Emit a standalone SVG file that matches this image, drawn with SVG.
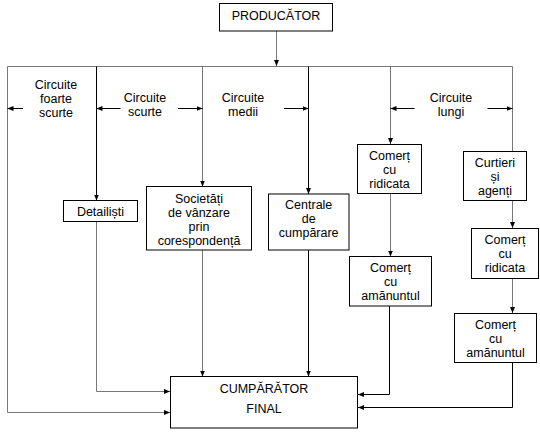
<svg xmlns="http://www.w3.org/2000/svg" width="540" height="432" viewBox="0 0 540 432">
<style>
.box{fill:#fff;stroke:#000;stroke-width:1}
.t{font-family:"Liberation Sans",Arial,sans-serif;font-size:12.5px;fill:#000;text-anchor:middle}
.c{fill:none;stroke:#000;stroke-width:1}
.g{fill:none;stroke:#777;stroke-width:1}
</style>
<defs>
<marker id="ah" markerWidth="6" markerHeight="6" refX="6" refY="3" orient="auto" markerUnits="userSpaceOnUse">
<path d="M0,0.5 L6,3 L0,5.5 z" fill="#000"/>
</marker>
</defs>
<rect width="540" height="432" fill="#fff"/>
<g id="connectors">
<path class="g" d="M276.5,31 V66" marker-end="url(#ah)"/>
<path class="g" d="M7.5,66.5 H512.5"/>
<path class="g" d="M7.5,66.5 V412.5 H170" marker-end="url(#ah)"/>
<path class="c" d="M96.5,66.5 V200.5" marker-end="url(#ah)"/>
<path class="g" d="M96.5,222 V391.5 H170" marker-end="url(#ah)"/>
<path class="g" d="M202.5,66.5 V186.5" marker-end="url(#ah)"/>
<path class="g" d="M202.5,250 V376.5" marker-end="url(#ah)"/>
<path class="c" d="M308.5,66.5 V194" marker-end="url(#ah)"/>
<path class="c" d="M308.5,250 V376.5" marker-end="url(#ah)"/>
<path class="g" d="M390.5,66.5 V144" marker-end="url(#ah)"/>
<path class="g" d="M390.5,193.5 V256.5" marker-end="url(#ah)"/>
<path class="c" d="M389.5,306 V394.5 H358" marker-end="url(#ah)"/>
<path class="g" d="M512.5,66.5 V151.5"/>
<path class="g" d="M512.5,200.5 V228" marker-end="url(#ah)"/>
<path class="g" d="M512.5,278.5 V313" marker-end="url(#ah)"/>
<path class="c" d="M512.5,362.5 V407.5 H358" marker-end="url(#ah)"/>
<path class="c" d="M23,108.5 H7.5" marker-end="url(#ah)"/>
<path class="c" d="M120.5,108.5 H96.5" marker-end="url(#ah)"/>
<path class="c" d="M178,108.5 H202.5" marker-end="url(#ah)"/>
<path class="c" d="M284,108.5 H308.5" marker-end="url(#ah)"/>
<path class="c" d="M414.5,108.5 H390.5" marker-end="url(#ah)"/>
<path class="c" d="M487.5,108.5 H512.5" marker-end="url(#ah)"/>
</g>
<g id="labels">
<text class="t" x="56" y="88.5">Circuite</text>
<text class="t" x="56" y="102.5">foarte</text>
<text class="t" x="56" y="116.5">scurte</text>
<text class="t" x="145" y="102">Circuite</text>
<text class="t" x="145" y="116">scurte</text>
<text class="t" x="243" y="102">Circuite</text>
<text class="t" x="243" y="116">medii</text>
<text class="t" x="451" y="102">Circuite</text>
<text class="t" x="451" y="116">lungi</text>
</g>
<g id="producator">
<rect class="box" x="219.5" y="3.5" width="113" height="27.5"/>
<text class="t" x="276" y="20">PRODUCĂTOR</text>
</g>
<g id="detailisti">
<rect class="box" x="63.5" y="200.5" width="74" height="21"/>
<text class="t" x="100.5" y="215.5">Detailiști</text>
</g>
<g id="societati">
<rect class="box" x="146.5" y="186.5" width="105" height="63.5"/>
<text class="t" x="199" y="203">Societăți</text>
<text class="t" x="199" y="217">de vânzare</text>
<text class="t" x="199" y="231">prin</text>
<text class="t" x="199" y="245">corespondență</text>
</g>
<g id="centrale">
<rect class="box" x="268.5" y="194" width="80.5" height="56"/>
<text class="t" x="308.7" y="209">Centrale</text>
<text class="t" x="308.7" y="223">de</text>
<text class="t" x="308.7" y="237">cumpărare</text>
</g>
<g id="comert-ridicata-1">
<rect class="box" x="357.5" y="144.5" width="64" height="49"/>
<text class="t" x="389.5" y="159.5">Comerț</text>
<text class="t" x="389.5" y="173.5">cu</text>
<text class="t" x="389.5" y="187.5">ridicata</text>
</g>
<g id="comert-amanuntul-1">
<rect class="box" x="349.5" y="256.5" width="82" height="49.5"/>
<text class="t" x="390.5" y="272">Comerț</text>
<text class="t" x="390.5" y="286">cu</text>
<text class="t" x="390.5" y="300">amănuntul</text>
</g>
<g id="curtieri">
<rect class="box" x="463.5" y="151.5" width="63" height="49"/>
<text class="t" x="495" y="166.5">Curtieri</text>
<text class="t" x="495" y="180.5">și</text>
<text class="t" x="495" y="194.5">agenți</text>
</g>
<g id="comert-ridicata-2">
<rect class="box" x="471.5" y="228.5" width="67" height="50"/>
<text class="t" x="505" y="244">Comerț</text>
<text class="t" x="505" y="258">cu</text>
<text class="t" x="505" y="272">ridicata</text>
</g>
<g id="comert-amanuntul-2">
<rect class="box" x="454.5" y="313.5" width="82" height="49"/>
<text class="t" x="495.5" y="328.5">Comerț</text>
<text class="t" x="495.5" y="342.5">cu</text>
<text class="t" x="495.5" y="356.5">amănuntul</text>
</g>
<g id="cumparator">
<rect class="box" x="170.5" y="376.5" width="187" height="51.5"/>
<text class="t" x="264" y="393">CUMPĂRĂTOR</text>
<text class="t" x="264" y="413">FINAL</text>
</g>
</svg>
